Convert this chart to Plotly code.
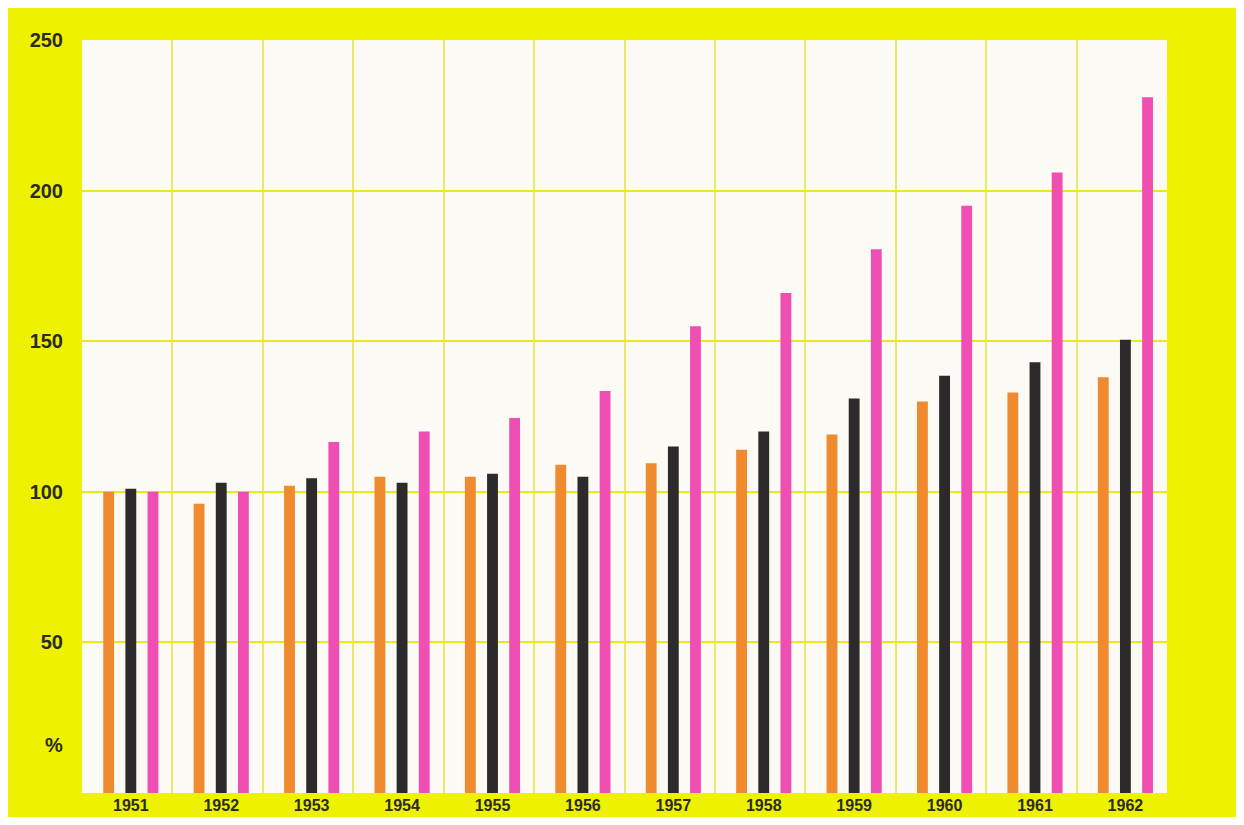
import plotly.graph_objects as go

years = ["1951", "1952", "1953", "1954", "1955", "1956",
         "1957", "1958", "1959", "1960", "1961", "1962"]
orange_vals = [100, 96, 102, 105, 105, 109, 109.5, 114, 119, 130, 133, 138]
black_vals = [101, 103, 104.5, 103, 106, 105, 115, 120, 131, 138.5, 143, 150.5]
pink_vals = [100, 100, 116.5, 120, 124.5, 133.5, 155, 166, 180.5, 195, 206, 231]
y_ticks = [50, 100, 150, 200, 250]

idx = list(range(len(years)))
BAR_W = 0.12
series = [
    (orange_vals, "#ef8a2e", -0.205),
    (black_vals, "#2c2a2a", 0.04),
    (pink_vals, "#ef4fb3", 0.285),
]

fig = go.Figure()
for vals, col, shift in series:
    fig.add_trace(go.Bar(
        x=idx, y=vals, width=BAR_W, offset=shift - BAR_W / 2,
        marker=dict(color=col, line=dict(width=0)),
        showlegend=False, hoverinfo="y",
    ))

TEXT = "#2b2b20"
fig.update_layout(
    width=1236, height=809,
    margin=dict(l=74, r=77, t=32, b=24, autoexpand=False),
    paper_bgcolor="#eef100",
    plot_bgcolor="#fcfaf4",
    barmode="overlay",
    xaxis=dict(
        automargin=False,
        range=[-0.5, len(years) - 0.5],
        tickmode="array",
        tickvals=[i + 0.04 for i in idx],
        ticktext=years,
        showgrid=False, zeroline=False, showline=False, ticks="",
        ticklabelstandoff=1,
        tickfont=dict(family="Liberation Sans, Arial", size=16,
                      color=TEXT, weight="bold"),
        minor=dict(tickmode="linear", tick0=-0.5, dtick=1, showgrid=True,
                   gridcolor="rgba(228,228,60,0.75)", gridwidth=1.5, ticks=""),
    ),
    yaxis=dict(
        automargin=False,
        range=[0, 250],
        tickmode="array", tickvals=y_ticks, ticktext=[str(v) for v in y_ticks],
        showgrid=True, gridcolor="#e9e91c", gridwidth=2,
        zeroline=False, showline=False, ticks="",
        ticklabelstandoff=18,
        tickfont=dict(family="Liberation Sans, Arial", size=20, color=TEXT, weight="bold"),
    ),
    annotations=[dict(
        text="%", xref="paper", yref="y", x=0, y=16, xanchor="right", yanchor="middle",
        xshift=-17, showarrow=False,
        font=dict(family="Liberation Sans, Arial", size=20, color=TEXT, weight="bold"),
    )],
)

fig.write_html("out.html")
